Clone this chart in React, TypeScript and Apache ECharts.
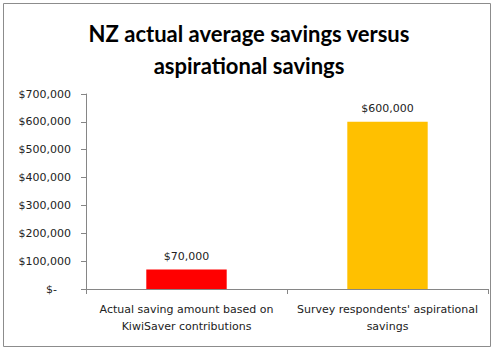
import React, { useEffect, useRef } from "react";
import * as echarts from "echarts";

const categories = [
  "Actual saving amount based on\nKiwiSaver contributions",
  "Survey respondents' aspirational\nsavings",
];
const values = [70000, 600000];
const barColors = ["#FF0000", "#FFC000"];
const titleText = "NZ actual average savings versus\naspirational savings";

function fmtMoney(v: number): string {
  return "$" + v.toLocaleString("en-US");
}

export default function App() {
  const ref = useRef<HTMLDivElement>(null);
  useEffect(() => {
    if (!ref.current) return;
    const chart = echarts.init(ref.current, undefined, { renderer: "svg" });
    const font = "DejaVu Sans";
    chart.setOption({
      animation: false,
      backgroundColor: "#fff",
      graphic: [
        {
          type: "rect",
          shape: { x: 3.5, y: 3.5, width: 487, height: 343 },
          style: { fill: "none", stroke: "#8c8c8c", lineWidth: 1 },
          silent: true,
        },
      ],
      title: {
        text: titleText,
        left: 244,
        textAlign: "center",
        top: 12,
        textStyle: {
          fontFamily: "Lato",
          fontWeight: "bold",
          fontSize: 22,
          lineHeight: 32,
          color: "#000",
        },
      },
      grid: { left: 86, right: 11, top: 94, bottom: 63, containLabel: false },
      xAxis: {
        type: "category",
        data: categories,
        axisLine: { show: true, lineStyle: { color: "#868686", width: 1 } },
        axisTick: { show: true, alignWithLabel: false, length: 5, lineStyle: { color: "#868686" } },
        axisLabel: {
          interval: 0,
          margin: 12,
          fontFamily: font,
          fontSize: 11,
          lineHeight: 17,
          color: "#222",
        },
      },
      yAxis: {
        type: "value",
        min: 0,
        max: 700000,
        interval: 100000,
        splitLine: { show: false },
        axisLine: { show: true, lineStyle: { color: "#868686", width: 1 } },
        axisTick: { show: true, length: 5, lineStyle: { color: "#868686" } },
        axisLabel: {
          margin: 15,
          fontFamily: font,
          fontSize: 11,
          color: "#222",
          formatter: (v: number) => (v === 0 ? "{z|$-}" : fmtMoney(v)),
          rich: { z: { fontFamily: font, fontSize: 11, color: "#222", padding: [0, 14, 0, 0] } },
        },
      },
      series: [
        {
          type: "bar",
          barWidth: "40%",
          data: values.map((v, i) => ({ value: v, itemStyle: { color: barColors[i] } })),
          label: {
            show: true,
            position: "top",
            distance: 8,
            fontFamily: font,
            fontSize: 11,
            color: "#222",
            formatter: (p: any) => fmtMoney(p.value),
          },
        },
      ],
    });
    return () => chart.dispose();
  }, []);
  return (
    <div
      ref={ref}
      style={{ position: "absolute", left: 0, top: 0, width: 499, height: 352 }}
    />
  );
}
